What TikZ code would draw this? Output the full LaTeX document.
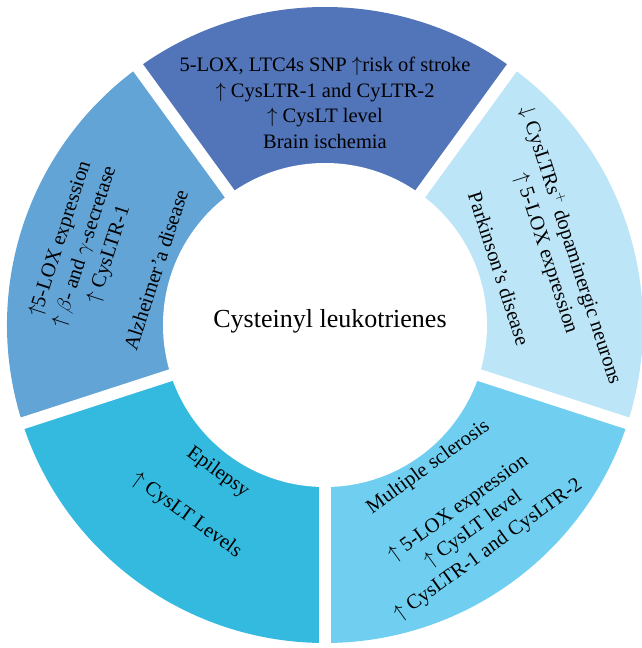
\documentclass[tikz,border=0pt]{standalone}
\usepackage{fontspec}
\setmainfont{Liberation Serif}
\definecolor{ischemia}{RGB}{82,116,185}
\definecolor{alzheimer}{RGB}{99,164,215}
\definecolor{parkinson}{RGB}{188,229,247}
\definecolor{sclerosis}{RGB}{112,207,240}
\definecolor{epilepsy}{RGB}{52,186,222}

\begin{document}
\begin{tikzpicture}[x=1pt,y=1pt,
  txt/.style={align=center,inner sep=0pt,font=\fontsize{20.5}{25.5}\selectfont},
  gap/.style={white,line width=12pt}]
  \useasboundingbox (-325,-323) rectangle (316,325);

  \fill[ischemia] (54:318) arc[start angle=54,end angle=126,radius=318pt]
    -- (126:150) arc[start angle=126,end angle=54,radius=150pt] -- cycle;
  \fill[alzheimer] (126:318) arc[start angle=126,end angle=198,radius=318pt]
    -- (198:150) arc[start angle=198,end angle=126,radius=150pt] -- cycle;
  \fill[epilepsy] (198:318) arc[start angle=198,end angle=270,radius=318pt]
    -- (270:150) arc[start angle=270,end angle=198,radius=150pt] -- cycle;
  \fill[sclerosis] (-90:318) arc[start angle=-90,end angle=-18,radius=318pt]
    -- (-18:150) arc[start angle=-18,end angle=-90,radius=150pt] -- cycle;
  \fill[parkinson] (-18:318) arc[start angle=-18,end angle=54,radius=318pt]
    -- (54:150) arc[start angle=54,end angle=-18,radius=150pt] -- cycle;

  \foreach \a in {-90,-18,54,126,198}
    \draw[gap] (0,0) -- (\a:330);
  \fill[white] (0,0) circle (162pt);

  \node (cys) at (5,4) {\fontsize{26}{30}\selectfont Cysteinyl leukotrienes};

  \node[txt] (brain) at (90:222)
    {5-LOX, LTC4s SNP $\uparrow$risk of stroke\\
     $\uparrow$ CysLTR-1 and CyLTR-2\\
     $\uparrow$ CysLT level\\
     Brain ischemia};
  \node[txt,rotate=72] (alz) at (162:229)
    {$\uparrow$5-LOX expression\\
     $\uparrow\beta$- and $\gamma$-secretase\\
     $\uparrow$ CysLTR-1\\[25.5pt]
     Alzheimer’a disease};
  \node[txt,rotate=-72] (park) at (18:222)
    {$\downarrow$ CysLTRs$^{+}$ dopaminergic neurons\\
     $\uparrow$ 5-LOX expression\\[25.5pt]
     Parkinson’s disease};
  \node[txt,rotate=36] (ms) at (-54:227)
    {Multiple sclerosis\\[25.5pt]
     $\uparrow$ 5-LOX expression\\
     $\uparrow$ CysLT level\\
     $\uparrow$ CysLTR-1 and CysLTR-2};
  \node[txt,rotate=-36] (epi) at (-126:209)
    {Epilepsy\\[28pt]
     $\uparrow$ CysLT Levels};
\end{tikzpicture}
\end{document}
